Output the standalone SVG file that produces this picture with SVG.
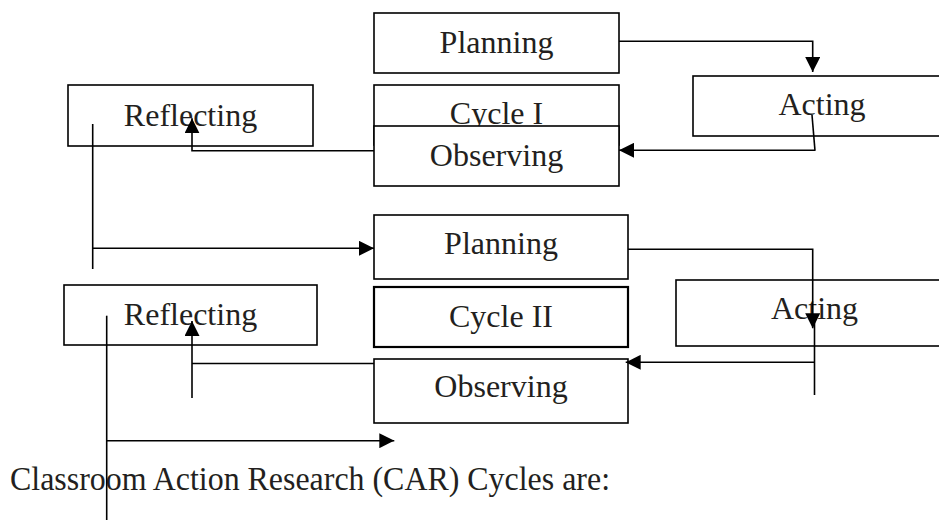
<svg xmlns="http://www.w3.org/2000/svg" width="939" height="520" viewBox="0 0 939 520">
<style>
.box{fill:#fff;stroke:#000;stroke-width:1.6}
.thick{stroke-width:2.2}
.lbl{font-family:"Liberation Serif","Times New Roman",serif;font-size:32px;fill:#231f20}
.cap{font-size:34px}
.ln{fill:none;stroke:#000;stroke-width:1.6}
</style>
<defs>
<marker id="ahL" viewBox="0 0 10 10" refX="10" refY="5" markerWidth="15" markerHeight="15" markerUnits="userSpaceOnUse" orient="auto">
<path d="M0,0 L10,5 L0,10 Z" fill="#000"/>
</marker>
</defs>
<rect width="939" height="520" fill="#fff"/>

<g id="planning1"><rect class="box" x="374" y="13" width="245" height="60"/><text class="lbl" x="496.5" y="53" text-anchor="middle">Planning</text></g>
<g id="cycle1"><rect class="box" x="374" y="85" width="245" height="60"/><text class="lbl" x="496.5" y="124" text-anchor="middle">Cycle I</text></g>
<g id="observing1"><rect class="box" x="374" y="126" width="245" height="60"/><text class="lbl" x="496.5" y="166" text-anchor="middle">Observing</text></g>
<g id="acting1"><rect class="box" x="693" y="76" width="260" height="60"/><text class="lbl" x="822" y="115" text-anchor="middle">Acting</text></g>
<g id="reflecting1"><rect class="box" x="68" y="85" width="245" height="61"/><text class="lbl" x="190.5" y="126" text-anchor="middle">Reflecting</text></g>

<g id="planning2"><rect class="box" x="374" y="215" width="254" height="64"/><text class="lbl" x="501" y="254" text-anchor="middle">Planning</text></g>
<g id="cycle2"><rect class="box thick" x="374" y="287" width="254" height="60"/><text class="lbl" x="501" y="327" text-anchor="middle">Cycle II</text></g>
<g id="observing2"><rect class="box" x="374" y="359" width="254" height="64"/><text class="lbl" x="501" y="397" text-anchor="middle">Observing</text></g>
<g id="acting2"><rect class="box" x="676" y="280" width="280" height="66"/><text class="lbl" x="814.5" y="319" text-anchor="middle">Acting</text></g>
<g id="reflecting2"><rect class="box" x="64" y="285" width="253" height="60"/><text class="lbl" x="190.5" y="325" text-anchor="middle">Reflecting</text></g>

<g id="caption"><text class="lbl cap" x="10" y="490" textLength="600" lengthAdjust="spacingAndGlyphs">Classroom Action Research (CAR) Cycles are:</text></g>

<g id="connectors">
<path class="ln" d="M619,41.3 H812.7 V72" marker-end="url(#ahL)"/>
<path class="ln" d="M812,115 L815,150.7"/>
<path class="ln" d="M815,150.3 H619" marker-end="url(#ahL)"/>
<path class="ln" d="M374,150.7 H192 V118.3" marker-end="url(#ahL)"/>
<path class="ln" d="M92.7,124 V269"/>
<path class="ln" d="M92.7,248.3 H374" marker-end="url(#ahL)"/>

<path class="ln" d="M628,249.3 H812.7 V328.3" marker-end="url(#ahL)"/>
<path class="ln" d="M814.5,318 V395"/>
<path class="ln" d="M814.5,362.3 H625.7" marker-end="url(#ahL)"/>
<path class="ln" d="M374,363.5 H192"/>
<path class="ln" d="M192,398 V321" marker-end="url(#ahL)"/>
<path class="ln" d="M106.7,315.7 V520"/>
<path class="ln" d="M106.7,440.7 H394.3" marker-end="url(#ahL)"/>
</g>
</svg>
